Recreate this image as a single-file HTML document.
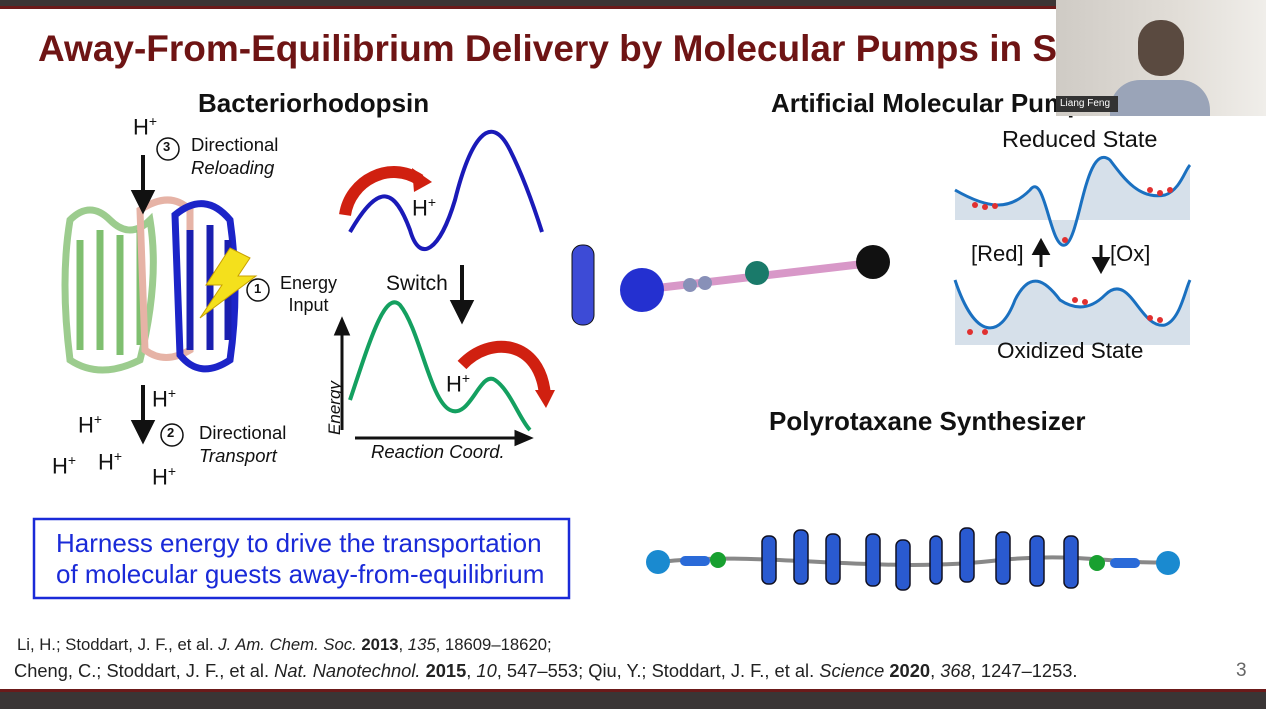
<!DOCTYPE html>
<html><head><meta charset="utf-8"><style>
body{margin:0;width:1266px;height:709px;overflow:hidden;background:#fff;position:relative;font-family:"Liberation Sans",Arial,sans-serif;}
.t{position:absolute;white-space:nowrap;color:#111;}
</style></head><body>
<div style="position:absolute;left:0;top:0;width:1266px;height:6px;background:#3b3535"></div>
<div style="position:absolute;left:0;top:6px;width:1266px;height:3px;background:#6b1a1a"></div>
<div class="t" style="left:38px;top:28px;font-size:37px;font-weight:bold;color:#6e1414">Away-From-Equilibrium Delivery by Molecular Pumps in Solution</div>
<div class="t" style="left:198px;top:88px;font-size:26px;font-weight:bold">Bacteriorhodopsin</div>
<div class="t" style="left:771px;top:88px;font-size:26px;font-weight:bold">Artificial Molecular Pumps</div>
<div class="t" style="left:769px;top:406px;font-size:26px;font-weight:bold">Polyrotaxane Synthesizer</div>
<svg width="1266" height="709" style="position:absolute;left:0;top:0">
<g fill="none" stroke-width="7">
<path d="M70 220 q20 -20 40 0 t40 0 q10 60 -10 140 q-40 20 -70 0 q-10 -80 0 -140z" stroke="#9ccc8e"/>
<path d="M80 240 v110 M100 230 v120 M120 235 v120 M140 230 v115" stroke="#7fbf70"/>
<path d="M140 210 q30 -20 50 0 v140 q-25 15 -45 0z" stroke="#e6b3a6"/>
<path d="M175 215 q30 -25 55 5 q10 70 0 140 q-30 20 -50 -5z" stroke="#1c24c8"/>
<path d="M190 230 v120 M210 225 v125 M228 240 v100" stroke="#1a1fb0"/>
</g>
<polygon points="230,248 250,258 238,276 256,276 200,318 222,285 206,285" fill="#f4e01c" stroke="#c8a000"/>
<g stroke="#111" stroke-width="4" fill="#111">
<line x1="143" y1="155" x2="143" y2="195"/><polygon points="134,192 152,192 143,210"/>
<line x1="143" y1="385" x2="143" y2="425"/><polygon points="134,422 152,422 143,440"/>
<line x1="462" y1="265" x2="462" y2="305"/><polygon points="453,302 471,302 462,320"/>
<line x1="1041" y1="267" x2="1041" y2="250" stroke-width="3"/><polygon points="1035,253 1047,253 1041,242"/>
<line x1="1101" y1="245" x2="1101" y2="262" stroke-width="3"/><polygon points="1095,259 1107,259 1101,270"/>
</g>
<g fill="none" stroke="#111" stroke-width="1.5">
<circle cx="168" cy="149" r="11"/><circle cx="258" cy="290" r="11"/><circle cx="172" cy="435" r="11"/>
</g>
<path d="M350 232 C380 180 395 190 410 230 C420 265 440 250 455 200 C470 140 490 110 510 150 C525 180 535 210 542 232" fill="none" stroke="#1a1ab8" stroke-width="4"/>
<path d="M350 400 C370 340 385 290 400 305 C420 330 430 400 450 410 C470 420 480 370 495 380 C510 390 520 420 530 430" fill="none" stroke="#14a060" stroke-width="4"/>
<path d="M345 215 C350 180 390 160 420 180" fill="none" stroke="#d02010" stroke-width="12"/>
<polygon points="412,168 432,182 414,192" fill="#d02010"/>
<path d="M462 365 C490 335 540 340 545 395" fill="none" stroke="#d02010" stroke-width="12"/>
<polygon points="535,390 555,390 546,408" fill="#d02010"/>
<g stroke="#111" stroke-width="3" fill="#111">
<line x1="342" y1="430" x2="342" y2="330"/><polygon points="336,334 348,334 342,320"/>
<line x1="355" y1="438" x2="520" y2="438"/><polygon points="516,432 530,438 516,444"/>
</g>
<rect x="572" y="245" width="22" height="80" rx="10" fill="#3d4bd6" stroke="#111"/>
<line x1="640" y1="290" x2="880" y2="262" stroke="#d898c8" stroke-width="8"/>
<circle cx="642" cy="290" r="22" fill="#2430d0"/>
<circle cx="690" cy="285" r="7" fill="#8890b8"/><circle cx="705" cy="283" r="7" fill="#8890b8"/>
<circle cx="757" cy="273" r="12" fill="#1a7a6a"/>
<circle cx="873" cy="262" r="17" fill="#111"/>
<path d="M955 190 C990 210 1010 210 1030 190 C1045 170 1050 250 1065 245 C1080 240 1085 140 1110 160 C1125 180 1140 200 1165 195 C1180 190 1185 170 1190 165 V220 H955Z" fill="#d6e0ea"/>
<path d="M955 190 C990 210 1010 210 1030 190 C1045 170 1050 250 1065 245 C1080 240 1085 140 1110 160 C1125 180 1140 200 1165 195 C1180 190 1185 170 1190 165" fill="none" stroke="#1a70c0" stroke-width="3"/>
<path d="M955 280 C975 340 1000 340 1015 300 C1030 270 1045 280 1060 300 C1075 310 1090 310 1105 295 C1130 270 1140 330 1165 325 C1180 320 1185 290 1190 280 V345 H955Z" fill="#d6e0ea"/>
<path d="M955 280 C975 340 1000 340 1015 300 C1030 270 1045 280 1060 300 C1075 310 1090 310 1105 295 C1130 270 1140 330 1165 325 C1180 320 1185 290 1190 280" fill="none" stroke="#1a70c0" stroke-width="3"/>
<g fill="#e03030"><circle cx="975" cy="205" r="3"/><circle cx="985" cy="207" r="3"/><circle cx="995" cy="206" r="3"/><circle cx="1150" cy="190" r="3"/><circle cx="1160" cy="193" r="3"/><circle cx="1170" cy="190" r="3"/><circle cx="1075" cy="300" r="3"/><circle cx="1085" cy="302" r="3"/><circle cx="1150" cy="318" r="3"/><circle cx="1160" cy="320" r="3"/><circle cx="970" cy="332" r="3"/><circle cx="985" cy="332" r="3"/><circle cx="1065" cy="240" r="3"/></g>
<path d="M660 562 C760 550 880 575 1000 560 C1080 552 1120 565 1170 562" fill="none" stroke="#888" stroke-width="4"/>
<circle cx="658" cy="562" r="12" fill="#1a8ad0"/><circle cx="1168" cy="563" r="12" fill="#1a8ad0"/>
<circle cx="718" cy="560" r="8" fill="#18a030"/><circle cx="1097" cy="563" r="8" fill="#18a030"/>
<rect x="680" y="556" width="30" height="10" rx="5" fill="#2a6ad8"/><rect x="1110" y="558" width="30" height="10" rx="5" fill="#2a6ad8"/>
<g fill="#2a5ad0" stroke="#112" stroke-width="1.5">
<rect x="762" y="536" width="14" height="48" rx="6"/><rect x="794" y="530" width="14" height="54" rx="6"/><rect x="826" y="534" width="14" height="50" rx="6"/><rect x="866" y="534" width="14" height="52" rx="6"/><rect x="896" y="540" width="14" height="50" rx="6"/><rect x="930" y="536" width="12" height="48" rx="6"/><rect x="960" y="528" width="14" height="54" rx="6"/><rect x="996" y="532" width="14" height="52" rx="6"/><rect x="1030" y="536" width="14" height="50" rx="6"/><rect x="1064" y="536" width="14" height="52" rx="6"/>
</g>
<rect x="34" y="519" width="535" height="79" fill="none" stroke="#1a2ad8" stroke-width="2.5"/>
</svg>
<div style="position:absolute;left:1056px;top:0;width:210px;height:116px;background:linear-gradient(90deg,#cfcbc5,#e2ded8 60%,#f0eeea)"></div>
<div style="position:absolute;left:1138px;top:20px;width:46px;height:56px;border-radius:22px;background:#5a4a40"></div>
<div style="position:absolute;left:1110px;top:80px;width:100px;height:36px;border-radius:30px 30px 0 0;background:#9aa4b8"></div>
<div style="position:absolute;left:1056px;top:96px;width:58px;height:16px;background:#333;color:#fff;font-size:10px;line-height:16px;padding-left:4px">Liang Feng</div>
<div class="t" style="left:133px;top:113px;font-size:22px">H<sup style="font-size:14px">+</sup></div>
<div class="t" style="left:163px;top:139px;font-size:13px;font-weight:bold">3</div>
<div class="t" style="left:191px;top:133px;font-size:18.5px;line-height:23px">Directional<br><i>Reloading</i></div>
<div class="t" style="left:254px;top:281px;font-size:13px;font-weight:bold">1</div>
<div class="t" style="left:280px;top:272px;font-size:18px;line-height:22px;text-align:center">Energy<br>Input</div>
<div class="t" style="left:386px;top:272px;font-size:21px">Switch</div>
<div class="t" style="left:412px;top:194px;font-size:22px">H<sup style="font-size:14px">+</sup></div>
<div class="t" style="left:446px;top:370px;font-size:22px">H<sup style="font-size:14px">+</sup></div>
<div class="t" style="left:308px;top:398px;font-size:17px;transform:rotate(-90deg);font-style:italic">Energy</div>
<div class="t" style="left:371px;top:441px;font-size:18.5px;font-style:italic">Reaction Coord.</div>
<div class="t" style="left:152px;top:385px;font-size:22px">H<sup style="font-size:14px">+</sup></div>
<div class="t" style="left:167px;top:425px;font-size:13px;font-weight:bold">2</div>
<div class="t" style="left:199px;top:421px;font-size:18.5px;line-height:23px">Directional<br><i>Transport</i></div>
<div class="t" style="left:78px;top:411px;font-size:22px">H<sup style="font-size:14px">+</sup></div>
<div class="t" style="left:52px;top:452px;font-size:22px">H<sup style="font-size:14px">+</sup></div>
<div class="t" style="left:98px;top:448px;font-size:22px">H<sup style="font-size:14px">+</sup></div>
<div class="t" style="left:152px;top:463px;font-size:22px">H<sup style="font-size:14px">+</sup></div>
<div class="t" style="left:1002px;top:126px;font-size:23.5px">Reduced State</div>
<div class="t" style="left:971px;top:241px;font-size:22px">[Red]</div>
<div class="t" style="left:1110px;top:241px;font-size:22px">[Ox]</div>
<div class="t" style="left:997px;top:338px;font-size:22.5px">Oxidized State</div>
<div class="t" style="left:56px;top:528px;font-size:26px;line-height:31px;color:#1a2ad8">Harness energy to drive the transportation<br>of molecular guests away-from-equilibrium</div>
<div class="t" style="left:17px;top:635px;font-size:16.7px;color:#222">Li, H.; Stoddart, J. F., et al. <i>J. Am. Chem. Soc.</i> <b>2013</b>, <i>135</i>, 18609–18620;</div>
<div class="t" style="left:14px;top:660px;font-size:18.3px;color:#222">Cheng, C.; Stoddart, J. F., et al. <i>Nat. Nanotechnol.</i> <b>2015</b>, <i>10</i>, 547–553; Qiu, Y.; Stoddart, J. F., et al. <i>Science</i> <b>2020</b>, <i>368</i>, 1247–1253.</div>
<div class="t" style="left:1236px;top:660px;font-size:19px;color:#666">3</div>
<div style="position:absolute;left:0;top:689px;width:1266px;height:3px;background:#6b1a1a"></div>
<div style="position:absolute;left:0;top:692px;width:1266px;height:17px;background:#3a3535"></div>
</body></html>
